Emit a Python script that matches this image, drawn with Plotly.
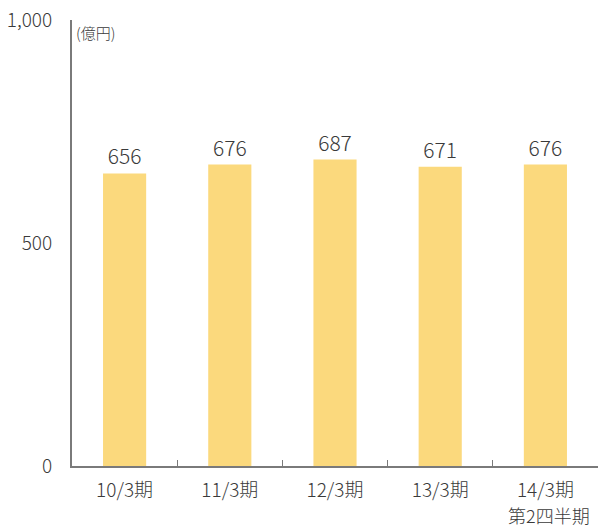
import plotly.graph_objects as go

periods = ["10/3期", "11/3期", "12/3期", "13/3期", "14/3期"]
period_notes = ["", "", "", "", "第2四半期"]
sales = [656, 676, 687, 671, 676]
y_ticks = [0, 500, 1000]
y_tick_text = ["0", "500", "1,000"]

font_family = "Noto Sans CJK JP, Noto Sans, sans-serif"
text_color = "#3a3a3a"
axis_color = "#7a7a7a"
bar_color = "#FBD97D"

fig = go.Figure(
    go.Bar(
        x=periods,
        y=sales,
        width=0.41,
        marker=dict(color=bar_color, line=dict(width=0)),
        text=[str(v) for v in sales],
        textposition="outside",
        textfont=dict(family=font_family, size=21, color=text_color, weight=300),
        cliponaxis=False,
    )
)

annotations = [
    dict(
        text="(億円)",
        xref="paper",
        yref="paper",
        x=0,
        y=1,
        xanchor="left",
        yanchor="top",
        xshift=2,
        showarrow=False,
        font=dict(family=font_family, size=15, color=text_color, weight=300),
    )
]
# second line under a category label (e.g. the half-year note)
for cat, note in zip(periods, period_notes):
    if note:
        annotations.append(
            dict(
                text=note,
                x=cat,
                xref="x",
                yref="paper",
                y=0,
                yanchor="top",
                yshift=-35,
                xshift=4,
                borderpad=0,
                showarrow=False,
                font=dict(family=font_family, size=18, color=text_color, weight=300),
            )
        )

fig.update_layout(
    width=598,
    height=528,
    margin=dict(l=72, r=0, t=20, b=62),
    paper_bgcolor="white",
    plot_bgcolor="white",
    showlegend=False,
    font=dict(family=font_family, color=text_color),
    annotations=annotations,
)

fig.update_xaxes(
    range=[-0.5, 4.5],
    showline=True,
    linecolor=axis_color,
    linewidth=2,
    showgrid=False,
    ticks="inside",
    tickson="boundaries",
    ticklen=6,
    tickcolor=axis_color,
    tickwidth=1,
    tickfont=dict(family=font_family, size=19, color=text_color, weight=300),
    ticklabelstandoff=6,
)

fig.update_yaxes(
    range=[0, 1000],
    tickvals=y_ticks,
    ticktext=y_tick_text,
    showline=True,
    linecolor=axis_color,
    linewidth=2,
    showgrid=False,
    zeroline=False,
    ticks="",
    tickfont=dict(family=font_family, size=19, color=text_color, weight=300),
    ticklabelstandoff=14,
)

fig.write_html("out.html")
